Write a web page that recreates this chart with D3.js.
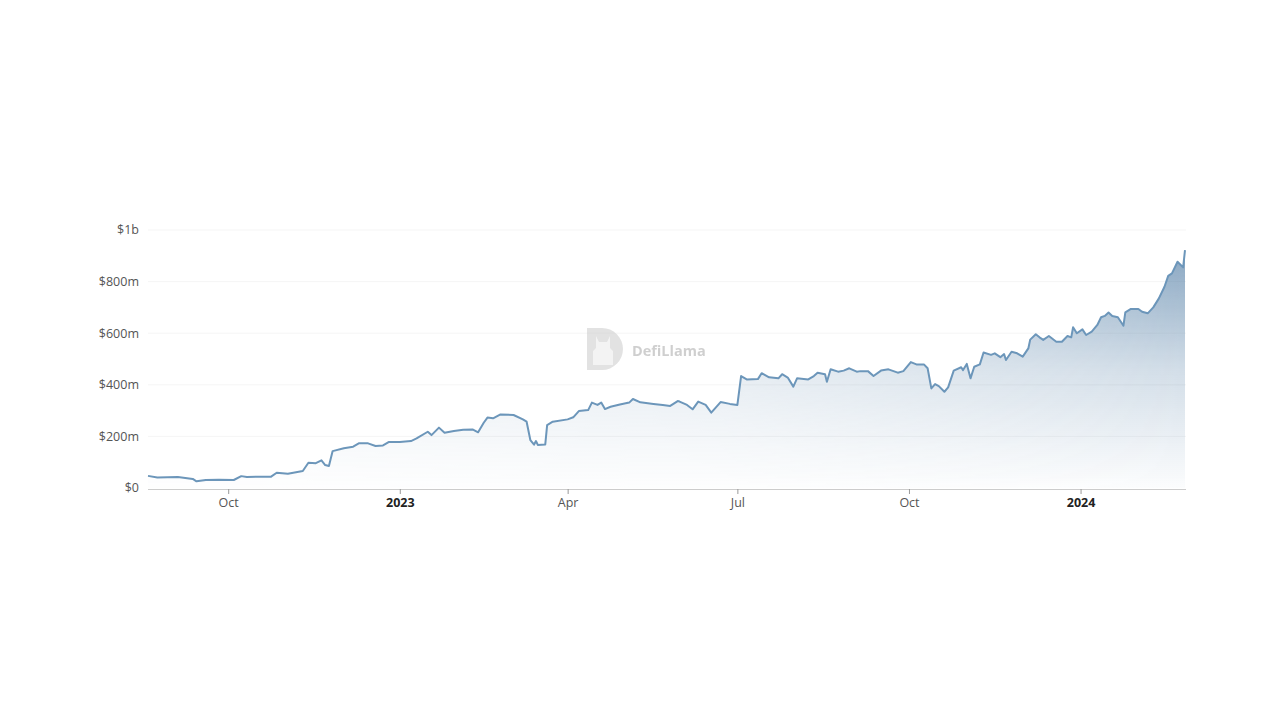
<!DOCTYPE html>
<html>
<head>
<meta charset="utf-8">
<script src="https://cdn.jsdelivr.net/npm/d3@7"></script>
<style>
  body { margin: 0; background: #fff; }
  svg { display: block; font-family: "Open Sans", "Noto Sans", sans-serif; }
</style>
</head>
<body>
<div id="chart"></div>
<script>
// TVL readings (in $m)
const dates = [
  '2022-08-19','2022-08-24','2022-09-04','2022-09-08','2022-09-12','2022-09-14','2022-09-19','2022-09-26',
  '2022-10-04','2022-10-08','2022-10-11','2022-10-24','2022-10-27','2022-11-02','2022-11-10','2022-11-13',
  '2022-11-17','2022-11-20','2022-11-22','2022-11-24','2022-11-26','2022-12-02','2022-12-07','2022-12-10',
  '2022-12-15','2022-12-19','2022-12-23','2022-12-26','2023-01-01','2023-01-07','2023-01-10','2023-01-16',
  '2023-01-18','2023-01-22','2023-01-25','2023-01-30','2023-02-04','2023-02-09','2023-02-12','2023-02-15',
  '2023-02-17','2023-02-20','2023-02-24','2023-03-03','2023-03-08','2023-03-10','2023-03-12','2023-03-14',
  '2023-03-15','2023-03-16','2023-03-20','2023-03-21','2023-03-24','2023-04-01','2023-04-04','2023-04-07',
  '2023-04-12','2023-04-14','2023-04-17','2023-04-19','2023-04-21','2023-04-24','2023-04-29','2023-05-04',
  '2023-05-06','2023-05-10','2023-05-17','2023-05-22','2023-05-26','2023-05-30','2023-05-31','2023-06-04',
  '2023-06-07','2023-06-10','2023-06-14','2023-06-17','2023-06-22','2023-06-27','2023-07-01','2023-07-03',
  '2023-07-06','2023-07-12','2023-07-14','2023-07-18','2023-07-23','2023-07-25','2023-07-28','2023-07-31',
  '2023-08-02','2023-08-08','2023-08-11','2023-08-13','2023-08-17','2023-08-18','2023-08-20','2023-08-24',
  '2023-08-27','2023-08-30','2023-09-03','2023-09-05','2023-09-09','2023-09-12','2023-09-16','2023-09-20',
  '2023-09-25','2023-09-28','2023-10-02','2023-10-05','2023-10-09','2023-10-11','2023-10-13','2023-10-15',
  '2023-10-17','2023-10-20','2023-10-22','2023-10-25','2023-10-29','2023-10-30','2023-11-01','2023-11-03',
  '2023-11-05','2023-11-08','2023-11-10','2023-11-14','2023-11-16','2023-11-19','2023-11-21','2023-11-22',
  '2023-11-25','2023-11-28','2023-12-01','2023-12-04','2023-12-05','2023-12-08','2023-12-10','2023-12-12',
  '2023-12-15','2023-12-19','2023-12-22','2023-12-25','2023-12-27','2023-12-28','2023-12-30','2024-01-02',
  '2024-01-04','2024-01-07','2024-01-10','2024-01-12','2024-01-14','2024-01-16','2024-01-18','2024-01-21',
  '2024-01-24','2024-01-25','2024-01-28','2024-02-01','2024-02-03','2024-02-06','2024-02-09','2024-02-12',
  '2024-02-15','2024-02-17','2024-02-19','2024-02-22','2024-02-25','2024-02-26'
];
const tvl = [
  47,41,43,39,35,26,31,32,
  31,46,43,44,59,55,66,98,
  96,107,89,85,143,154,160,173,
  173,163,165,178,178,182,192,218,
  205,234,214,221,226,227,216,253,
  273,270,285,283,266,257,186,168,
  182,167,169,244,257,266,274,298,
  302,331,322,331,306,315,324,331,
  345,332,326,322,318,337,335,322,
  305,335,322,292,333,326,322,434,
  421,422,445,429,425,441,428,393,
  425,421,434,447,441,412,460,451,
  455,464,451,453,453,434,455,460,
  447,453,488,479,479,464,386,403,
  395,373,390,455,468,457,481,425,
  470,479,525,516,522,507,519,496,
  528,522,509,541,575,596,584,574,
  589,567,567,589,584,623,600,615,
  593,606,632,662,667,680,667,662,
  629,681,694,694,683,677,700,735,
  780,822,832,877,855,922
];

const yTicks = [0, 200, 400, 600, 800, 1000];
const yTickLabels = ['$0', '$200m', '$400m', '$600m', '$800m', '$1b'];
const xTicks = ['2022-10-01', '2023-01-01', '2023-04-01', '2023-07-01', '2023-10-01', '2024-01-01'];
const xTickLabels = ['Oct', '2023', 'Apr', 'Jul', 'Oct', '2024'];

const width = 1280, height = 720;
const mLeft = 148, mRight = 1185, mTop = 230, mBottom = 488;

const parse = d3.timeParse('%Y-%m-%d');
const data = dates.map((d, i) => ({ date: parse(d), value: tvl[i] }));

const x = d3.scaleTime()
  .domain([parse(dates[0]), parse(dates[dates.length - 1])])
  .range([mLeft, mRight]);
const y = d3.scaleLinear().domain([0, 1000]).range([mBottom, mTop]);

const svg = d3.select('#chart').append('svg')
  .attr('width', width)
  .attr('height', height);

svg.append('rect').attr('width', width).attr('height', height).attr('fill', '#fff');

const defs = svg.append('defs');
const vg = defs.append('linearGradient')
  .attr('id', 'areaFill')
  .attr('x1', 0).attr('y1', 0).attr('x2', 0).attr('y2', 1);
vg.append('stop').attr('offset', '0%').attr('stop-color', 'rgb(80,124,164)').attr('stop-opacity', 0.68);
vg.append('stop').attr('offset', '50%').attr('stop-color', 'rgb(80,124,164)').attr('stop-opacity', 0.26);
vg.append('stop').attr('offset', '100%').attr('stop-color', 'rgb(80,124,164)').attr('stop-opacity', 0.02);

// horizontal fade so the left part of the area stays lighter
const hg = defs.append('linearGradient')
  .attr('id', 'fadeX')
  .attr('gradientUnits', 'userSpaceOnUse')
  .attr('x1', mLeft).attr('y1', 0).attr('x2', mRight).attr('y2', 0);
hg.append('stop').attr('offset', '0%').attr('stop-color', '#555');
hg.append('stop').attr('offset', '55%').attr('stop-color', '#888');
hg.append('stop').attr('offset', '100%').attr('stop-color', '#fff');
defs.append('mask').attr('id', 'areaMask')
  .attr('maskUnits', 'userSpaceOnUse')
  .attr('x', 0).attr('y', 0).attr('width', width).attr('height', height)
  .append('rect')
  .attr('x', mLeft).attr('y', mTop - 10).attr('width', mRight - mLeft + 2).attr('height', mBottom - mTop + 20)
  .attr('fill', 'url(#fadeX)');

// grid lines
svg.append('g')
  .selectAll('line')
  .data(yTicks.slice(1))
  .enter()
  .append('line')
  .attr('x1', mLeft).attr('x2', mRight + 1)
  .attr('y1', d => y(d)).attr('y2', d => y(d))
  .attr('stroke', '#f5f5f5')
  .attr('stroke-width', 1);

// y labels
svg.append('g')
  .selectAll('text')
  .data(yTicks)
  .enter()
  .append('text')
  .attr('x', 139)
  .attr('y', d => y(d))
  .attr('dy', '0.35em')
  .attr('text-anchor', 'end')
  .attr('font-size', 12.5)
  .attr('fill', '#555')
  .text((d, i) => yTickLabels[i]);

// watermark
const wm = svg.append('g').attr('opacity', 0.6);
wm.append('path')
  .attr('d', 'M587,328 h15 a21,21 0 0 1 0,42 h-15 z')
  .attr('fill', '#cfcfcf');
wm.append('path')
  .attr('d', 'M596,336 l3,6 h8 l3,-6 v12 l3,3 v14 h-20 v-14 l3,-3 z')
  .attr('fill', '#ececec');
wm.append('text')
  .attr('x', 632).attr('y', 356)
  .attr('font-size', 14.5)
  .attr('font-weight', 'bold')
  .attr('fill', '#b0b0b0')
  .text('DefiLlama');

// area + line
const area = d3.area()
  .x(d => x(d.date))
  .y0(mBottom)
  .y1(d => y(d.value));
const line = d3.line()
  .x(d => x(d.date))
  .y(d => y(d.value));

svg.append('path')
  .datum(data)
  .attr('d', area)
  .attr('fill', 'url(#areaFill)')
  .attr('mask', 'url(#areaMask)');

svg.append('path')
  .datum(data)
  .attr('d', line)
  .attr('fill', 'none')
  .attr('stroke', 'rgb(108,150,186)')
  .attr('stroke-width', 2)
  .attr('stroke-linejoin', 'round');

// x axis
const xAxis = d3.axisBottom(x)
  .tickValues(xTicks.map(parse))
  .tickFormat((d, i) => xTickLabels[i])
  .tickSize(5)
  .tickSizeOuter(0);

const gx = svg.append('g')
  .attr('transform', `translate(0,${mBottom + 1})`)
  .call(xAxis);
gx.select('.domain')
  .attr('d', `M${mLeft},0.5H${mRight + 1}`)
  .attr('stroke', '#ccc');
gx.selectAll('.tick line').attr('stroke', '#999');
gx.selectAll('.tick text')
  .attr('font-family', '"Open Sans", "Noto Sans", sans-serif')
  .attr('font-size', 12.5)
  .attr('y', 9)
  .attr('fill', (d, i) => xTickLabels[i].length === 4 ? '#222' : '#555')
  .attr('font-weight', (d, i) => xTickLabels[i].length === 4 ? 'bold' : 'normal');
</script>
</body>
</html>
